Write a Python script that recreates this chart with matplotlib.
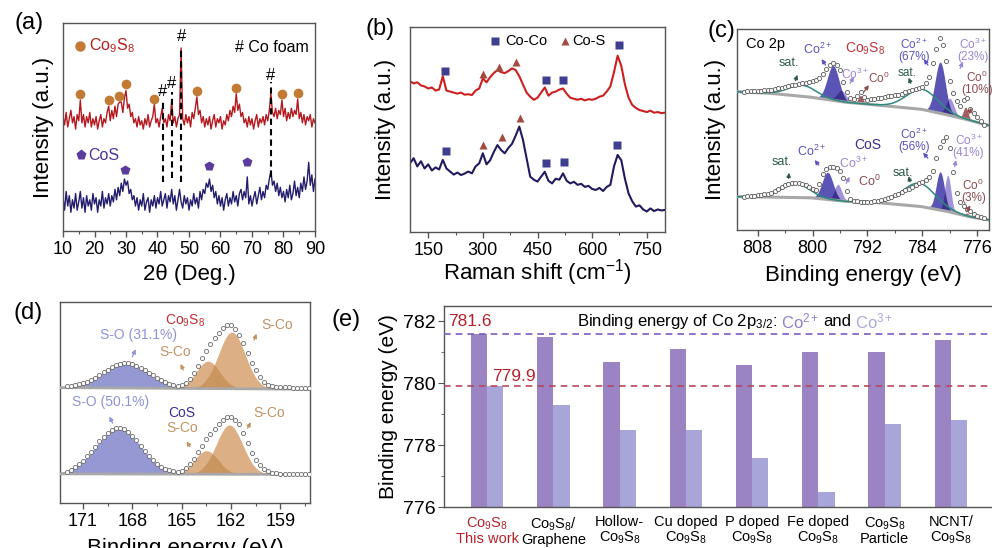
import numpy as np
import matplotlib
matplotlib.use('Agg')
import matplotlib.pyplot as plt
from matplotlib.ticker import MultipleLocator

plt.rcParams['font.family'] = ['Liberation Sans', 'DejaVu Sans']
plt.rcParams['mathtext.fontset'] = 'custom'
plt.rcParams['mathtext.rm'] = 'Liberation Sans'
plt.rcParams['mathtext.it'] = 'Liberation Sans:italic'
plt.rcParams['mathtext.bf'] = 'Liberation Sans:bold'

# ---------------- DATA ----------------
# (a) XRD, 2theta 10..90 step 0.5
xrd_co9s8 = [
    5.5, 5.1, 5.7, 5.0, 5.4, 5.8, 5.2, 5.5, 4.9, 5.6,
    5.3, 6.3, 5.2, 5.6, 5.0, 5.5, 5.2, 5.7, 5.0, 5.4,
    5.1, 5.5, 4.9, 5.3, 5.6, 5.0, 5.4, 5.2, 5.7, 6.0,
    5.3, 5.8, 5.4, 6.0, 5.5, 6.1, 6.2, 6.2, 5.7, 6.4,
    6.75, 5.9, 6.1, 5.5, 5.7, 5.2, 5.4, 5.0, 5.5, 5.1,
    5.3, 4.9, 5.4, 5.1, 5.6, 5.0, 5.3, 5.5, 6.1, 5.2,
    5.4, 5.0, 5.5, 5.9, 5.2, 5.4, 5.0, 5.6, 5.3, 6.3,
    5.2, 5.5, 5.0, 5.4, 5.6, 8.8, 5.4, 5.1, 5.6, 5.2,
    5.5, 5.0, 5.7, 5.4, 5.9, 6.45, 5.6, 5.8, 5.2, 5.5,
    5.0, 5.4, 5.1, 5.5, 4.9, 5.3, 5.6, 5.0, 5.4, 5.2,
    5.5, 4.9, 5.3, 5.1, 5.6, 5.3, 5.8, 5.5, 6.0, 5.7,
    6.6, 5.8, 6.1, 5.5, 5.7, 5.2, 5.4, 5.0, 5.5, 5.1,
    5.4, 4.9, 5.3, 5.6, 5.0, 5.4, 5.2, 5.5, 5.1, 5.6,
    5.3, 5.8, 6.6, 5.7, 5.5, 5.9, 5.4, 5.8, 5.6, 6.3,
    5.5, 5.9, 5.3, 5.7, 5.4, 5.9, 5.5, 5.8, 5.6, 6.35,
    5.4, 5.7, 5.2, 5.6, 5.1, 5.5, 5.3, 5.6, 5.0, 5.4,
    5.2]
xrd_cos = [
    1.6, 1.0, 1.9, 1.2, 1.7, 0.9, 1.5, 1.1, 1.8, 1.0,
    1.4, 1.9, 1.1, 1.6, 0.9, 1.7, 1.2, 1.5, 1.0, 1.8,
    1.3, 1.6, 0.9, 1.5, 1.2, 1.9, 1.1, 1.6, 1.3, 1.8,
    1.2, 1.7, 1.4, 2.0, 1.5, 2.1, 1.7, 2.3, 1.9, 2.5,
    2.2, 2.4, 1.8, 2.0, 1.5, 1.7, 1.2, 1.6, 1.0, 1.5,
    1.2, 1.8, 1.0, 1.4, 1.6, 0.9, 1.5, 1.2, 1.7, 1.1,
    1.6, 1.3, 1.9, 1.2, 1.5, 1.8, 1.1, 1.7, 1.4, 2.0,
    1.3, 1.7, 1.0, 1.5, 2.0, 1.4, 1.1, 1.7, 1.3, 1.6,
    1.0, 1.5, 1.2, 1.8, 1.3, 1.6, 1.1, 1.9, 1.5, 2.0,
    1.8, 2.3, 2.1, 2.5, 1.9, 2.2, 1.6, 1.9, 1.3, 1.7,
    1.2, 1.6, 1.0, 1.5, 1.8, 1.2, 1.6, 1.3, 1.9, 1.4,
    1.7, 1.2, 1.8, 2.0, 1.5, 1.9, 1.6, 2.6, 1.3, 1.7,
    1.2, 1.6, 1.9, 1.3, 1.7, 2.1, 1.5, 1.9, 1.6, 2.2,
    2.0, 2.5, 2.9, 2.2, 2.4, 1.9, 2.3, 1.7, 2.1, 1.6,
    1.9, 1.4, 2.0, 1.6, 2.2, 1.5, 1.8, 2.4, 1.7, 2.1,
    1.6, 2.3, 1.9, 2.6, 2.0, 2.4, 3.3, 2.2, 2.7, 1.9,
    2.5]
co9s8_peak_x = [15.4, 24.6, 27.8, 30.0, 39.0, 52.5, 64.8, 79.4, 84.7]
co9s8_peak_y = [6.57, 6.3, 6.49, 7.05, 6.33, 6.73, 6.86, 6.57, 6.62]
cos_peak_x = [29.7, 56.4, 68.3]
cos_peak_y = [2.93, 3.14, 3.3]
foam_x = [41.6, 44.5, 47.5, 75.9]
foam_top = [6.3, 6.68, 8.85, 7.16]
foam_bot = [2.36, 2.55, 2.36, 2.6]
foam_hash_y = [6.7, 7.1, 9.34, 7.5]

# (b) Raman, 100..800 step 10
raman_co9s8 = [
    7.35, 7.25, 7.3, 7.15, 7.1, 7.0, 7.05, 6.9, 6.95, 7.6,
    6.9, 6.85, 6.8, 6.75, 6.8, 6.7, 6.72, 6.68, 6.9, 7.0,
    7.5, 7.3, 7.55, 7.75, 7.9, 7.8, 7.75, 7.85, 7.98, 7.9,
    7.6, 7.2, 6.8, 6.6, 6.45, 6.55, 6.8, 7.05, 6.65, 6.8,
    6.85, 6.95, 7.0, 6.75, 6.55, 6.5, 6.45, 6.5, 6.42, 6.48,
    6.45, 6.5, 6.6, 6.65, 6.85, 7.1, 7.8, 8.6, 8.1, 7.2,
    6.55, 6.2, 6.05, 5.95, 5.9, 5.85, 5.92, 5.82, 5.85, 5.8,
    5.82]
raman_cos = [
    3.35, 3.6, 3.2, 3.45, 3.1, 3.3, 3.0, 3.15, 3.05, 3.52,
    3.1, 2.95, 2.8, 2.9, 2.78, 2.85, 2.95, 2.86, 3.2, 3.35,
    3.84, 3.3, 3.5, 3.9, 4.24, 4.0, 3.84, 4.1, 4.3, 4.7,
    5.14, 4.5, 3.6, 2.7, 2.55, 2.46, 2.7, 2.94, 2.5, 2.37,
    2.6, 2.55, 2.86, 2.5, 2.37, 2.45, 2.3, 2.35, 2.2, 2.25,
    2.1, 2.05, 2.15, 2.0, 2.2, 2.3, 3.2, 3.76, 3.5, 2.6,
    1.88, 1.5, 1.24, 1.3, 1.1, 1.0, 1.15, 1.02, 1.1, 1.05,
    1.08]
raman_sq_x = [196, 474, 521, 675, 198, 474, 524, 669.5]
raman_sq_y = [7.87, 7.41, 7.41, 9.12, 3.97, 3.35, 3.4, 4.24]
raman_tri_x = [301, 345, 391, 301, 352, 402]
raman_tri_y = [7.69, 8.03, 8.31, 4.24, 4.65, 5.55]

# (c) Co 2p XPS, 810..775 step 0.5
xps_co_top = [
    6.88, 6.9, 6.91, 6.92, 6.93, 6.94, 6.95, 6.96, 6.98, 7.0,
    7.05, 7.08, 7.12, 7.16, 7.2, 7.23, 7.27, 7.3, 7.33, 7.36,
    7.4, 7.46, 7.55, 7.75, 8.0, 8.2, 8.29, 8.22, 7.95, 7.35,
    6.85, 6.55, 6.5, 6.65, 6.88, 6.6, 6.48, 6.5, 6.52, 6.55,
    6.58, 6.62, 6.65, 6.68, 6.7, 6.73, 6.78, 6.85, 6.9, 6.95,
    7.0, 7.06, 7.13, 7.3, 7.63, 8.3, 9.0, 9.54, 9.2, 8.4,
    7.4, 6.8, 6.4, 6.15, 6.45, 6.55, 6.0, 5.8, 5.6, 5.4,
    5.22]
xps_co_bot = [
    1.66, 1.67, 1.68, 1.7, 1.72, 1.75, 1.78, 1.81, 1.86, 1.93,
    2.02, 2.12, 2.22, 2.29, 2.33, 2.35, 2.33, 2.29, 2.23, 2.15,
    2.06, 2.0, 2.3, 2.78, 3.05, 3.15, 3.12, 3.06, 2.92, 2.6,
    1.95, 1.55, 1.45, 1.42, 1.41, 1.4, 1.4, 1.41, 1.43, 1.46,
    1.5, 1.55, 1.6, 1.66, 1.72, 1.8, 1.88, 1.97, 2.06, 2.15,
    2.24, 2.32, 2.4, 2.5, 2.62, 2.95, 3.6, 4.15, 4.45, 4.62,
    4.1, 2.9, 1.85, 1.4, 1.2, 1.05, 0.95, 0.82, 0.72, 0.64,
    0.58]
co_base_x = [774.3, 777, 780, 784, 790, 795, 800, 806, 811]
co_base_top = [5.2, 5.45, 5.7, 6.0, 6.2, 6.35, 6.6, 6.8, 6.88]
co_base_bot = [0.5, 0.65, 0.9, 1.16, 1.35, 1.42, 1.6, 1.64, 1.66]
co_top_center = [797.0, 795.8, 793.0, 781.4, 780.0, 777.7]
co_top_amp = [1.73, 0.55, 0.4, 2.55, 0.85, 0.6]
co_top_sigma = [0.85, 0.7, 0.35, 0.75, 0.6, 0.35]
co_top_kind = ['2', '3', '0', '2', '3', '0']
co_top_sat_center = [801.5, 784.0]
co_top_sat_amp = [0.55, 1.0]
co_top_sat_sigma = [2.0, 2.3]
co_bot_center = [797.8, 796.3, 781.4, 780.3, 777.5]
co_bot_amp = [1.35, 0.8, 1.9, 1.8, 0.15]
co_bot_sigma = [0.8, 0.55, 0.6, 0.45, 0.35]
co_bot_kind = ['2', '3', '2', '3', '0']
co_bot_sat_center = [802.5, 784.5]
co_bot_sat_amp = [0.7, 1.15]
co_bot_sat_sigma = [2.0, 2.4]

# (d) S 2p XPS, 172..157 step 0.25
xps_s_top = [
    5.80, 5.82, 5.85, 5.90, 5.96, 6.03, 6.13, 6.24, 6.37,
    6.50, 6.63, 6.75, 6.85, 6.92, 6.96, 6.96, 6.92,
    6.84, 6.74, 6.62, 6.49, 6.35, 6.23, 6.12, 6.02,
    5.94, 5.86, 5.84, 5.88, 5.99, 6.18, 6.47, 6.82,
    7.2, 7.57, 7.9, 8.2, 8.47, 8.72, 8.86, 8.85,
    8.65, 8.35, 7.95, 7.45, 6.98, 6.6, 6.25, 6.0,
    5.87, 5.8, 5.77, 5.76, 5.75, 5.75, 5.74, 5.74,
    5.73, 5.73, 5.72, 5.72]
xps_s_bot = [
    1.55, 1.66, 1.79, 1.94, 2.11, 2.32, 2.55, 2.8, 3.06,
    3.3, 3.5, 3.65, 3.74, 3.75, 3.68, 3.54, 3.34,
    3.11, 2.86, 2.6, 2.36, 2.14, 1.96, 1.81, 1.7,
    1.62, 1.57, 1.56, 1.6, 1.72, 1.92, 2.2, 2.52,
    2.85, 3.16, 3.45, 3.7, 3.95, 4.15, 4.28, 4.28,
    4.15, 3.92, 3.5, 2.98, 2.5, 2.15, 1.88, 1.7,
    1.58, 1.51, 1.48, 1.46, 1.45, 1.45, 1.44, 1.44,
    1.43, 1.43, 1.43, 1.42]
s_base_x = [157.2, 172.4]
s_base_top = [5.66, 5.74]
s_base_bot = [1.42, 1.45]
s_top_center = [168.4, 163.4, 161.95]
s_top_amp = [1.23, 1.36, 2.82]
s_top_sigma = [1.4, 0.72, 0.81]
s_bot_center = [168.85, 163.5, 162.1]
s_bot_amp = [2.3, 1.17, 2.45]
s_bot_sigma = [1.36, 0.72, 0.8]

# (e) bar chart
e_labels = ["Co$_9$S$_8$\nThis work", "Co$_9$S$_8$/\nGraphene", "Hollow-\nCo$_9$S$_8$",
            "Cu doped\nCo$_9$S$_8$", "P doped\nCo$_9$S$_8$", "Fe doped\nCo$_9$S$_8$",
            "Co$_9$S$_8$\nParticle", "NCNT/\nCo$_9$S$_8$"]
e_co2 = [781.6, 781.5, 780.7, 781.1, 780.6, 781.0, 781.0, 781.4]
e_co3 = [779.9, 779.3, 778.5, 778.5, 777.6, 776.5, 778.7, 778.8]
e_ref = [781.6, 779.9]

# ---------------- FIGURE ----------------
W, H = 992, 548
fig = plt.figure(figsize=(W / 100, H / 100), dpi=100)


def add_ax(l, t, r, b):
    return fig.add_axes([l / W, 1 - b / H, (r - l) / W, (b - t) / H])


SPINE = '#555555'
TICKFS = 13
LABFS = 16


def style(ax, ticks_y=False):
    for s in ax.spines.values():
        s.set_color(SPINE)
        s.set_linewidth(1.0)
    ax.tick_params(axis='x', which='major', direction='out', length=4, width=1,
                   color=SPINE, labelsize=TICKFS, pad=3)
    ax.tick_params(axis='x', which='minor', direction='out', length=2.5, width=0.8, color=SPINE)
    if not ticks_y:
        ax.tick_params(axis='y', which='both', left=False, labelleft=False)


def gauss(x, c, a, s):
    return a * np.exp(-0.5 * ((x - c) / s) ** 2)


RED = '#b3191e'
NAVY = '#231d6e'

# ---- (a) ----
ax = add_ax(63, 23, 315, 231)
xa = np.linspace(10, 90, len(xrd_co9s8))
ax.plot(xa, xrd_co9s8, color=RED, lw=1.0)
ax.plot(np.linspace(10, 90, len(xrd_cos)), xrd_cos, color=NAVY, lw=1.0)
for fx, ft, fb, hy in zip(foam_x, foam_top, foam_bot, foam_hash_y):
    ax.plot([fx, fx], [fb, ft], color='k', lw=1.5, ls=(0, (3, 2)))
    ax.text(fx, hy, '#', ha='center', va='center', fontsize=12, color='k')
ax.plot(co9s8_peak_x, co9s8_peak_y, 'o', color='#c27a35', ms=7, mec='none')
ax.plot(cos_peak_x, cos_peak_y, 'p', color='#5b3b9c', ms=7.5, mec='none')
ax.plot([15.4], [8.9], 'o', color='#c27a35', ms=7.5, mec='none')
ax.text(18.4, 8.9, 'Co$_9$S$_8$', color='#b32020', fontsize=11.5, va='center')
ax.plot([15.7], [3.65], 'p', color='#5b3b9c', ms=8, mec='none')
ax.text(17.9, 3.65, 'CoS', color='#4a3598', fontsize=11.5, va='center')
ax.text(64.6, 8.8, '# Co foam', color='k', fontsize=11.5, va='center')
ax.set_xlim(10, 90)
ax.set_ylim(0, 10)
ax.xaxis.set_major_locator(MultipleLocator(10))
ax.xaxis.set_minor_locator(MultipleLocator(5))
style(ax)
ax.set_xlabel('2θ (Deg.)', fontsize=LABFS)
ax.set_ylabel('Intensity (a.u.)', fontsize=LABFS)
ax.xaxis.set_label_coords(0.5, -0.21)
ax.xaxis.label.set_verticalalignment('center')
ax.yaxis.set_label_coords(-0.079, 0.5)
ax.yaxis.label.set_verticalalignment('center')

# ---- (b) ----
ax = add_ax(410, 27, 665, 232)
xb = np.linspace(100, 800, len(raman_co9s8))
ax.plot(xb, raman_co9s8, color='#cc1f1f', lw=1.5)
ax.plot(np.linspace(100, 800, len(raman_cos)), raman_cos, color='#211a5e', lw=1.5)
ax.plot(raman_sq_x, raman_sq_y, 's', color='#3f3f8f', ms=6, mec='none')
ax.plot(raman_tri_x, raman_tri_y, '^', color='#a24a3e', ms=6, mec='none')
ax.plot([333.5], [9.33], 's', color='#3f3f8f', ms=6, mec='none')
ax.text(362, 9.33, 'Co-Co', fontsize=10.5, va='center')
ax.plot([526], [9.33], '^', color='#a24a3e', ms=6, mec='none')
ax.text(546, 9.33, 'Co-S', fontsize=10.5, va='center')
ax.set_xlim(100, 800)
ax.set_ylim(0, 10)
ax.xaxis.set_major_locator(MultipleLocator(150))
ax.xaxis.set_minor_locator(MultipleLocator(75))
style(ax)
ax.set_xlabel('Raman shift (cm$^{-1}$)', fontsize=LABFS)
ax.set_ylabel('Intensity (a.u.)', fontsize=LABFS)
ax.xaxis.set_label_coords(0.5, -0.2)
ax.xaxis.label.set_verticalalignment('center')
ax.yaxis.set_label_coords(-0.098, 0.5)
ax.yaxis.label.set_verticalalignment('center')

# ---- (c) ----
ax = add_ax(737, 29, 989, 230)
C2, C3, C0, CDK = '#5a55b5', '#a292d8', '#a45c60', '#3b3190'
T2, T3, T0, TSAT = '#5b52c0', '#9b86d4', '#8b4a4f', '#2e5a4a'
TEAL = '#2d8a7e'
xx = np.linspace(774.3, 811, 1500)
fillcol = {'2': C2, '3': C3, '0': C0}
for base_y, cen, amp, sig, kind, sc, sa, ss, data in [
        (co_base_top, co_top_center, co_top_amp, co_top_sigma, co_top_kind,
         co_top_sat_center, co_top_sat_amp, co_top_sat_sigma, xps_co_top),
        (co_base_bot, co_bot_center, co_bot_amp, co_bot_sigma, co_bot_kind,
         co_bot_sat_center, co_bot_sat_amp, co_bot_sat_sigma, xps_co_bot)]:
    base = np.interp(xx, co_base_x, base_y)
    comps = [gauss(xx, c, a, s) for c, a, s in zip(cen, amp, sig)]
    for g, k in zip(comps, kind):
        ax.fill_between(xx, base, base + g, color=fillcol[k], lw=0, zorder=2)
    for i in range(len(comps) - 1):
        if kind[i] == '2' and kind[i + 1] == '3':
            ov = np.minimum(comps[i], comps[i + 1])
            ax.fill_between(xx, base, base + ov, color=CDK, lw=0, zorder=2.1)
    ax.plot(xx, base, color='#a8a8a8', lw=2.2, zorder=3)
    sat = sum(gauss(xx, c, a, s) for c, a, s in zip(sc, sa, ss))
    ax.plot(xx, base + sat, color=TEAL, lw=1.1, zorder=3.5)
    ax.plot(np.linspace(810, 775, len(data)), data, 'o', ms=3.0, mfc='white',
            mec='#5a5a5a', mew=0.6, zorder=4)

c_labels = [
    ("Co 2p", 806.9, 9.25, 'k', 10.5),
    ("sat.", 803.5, 8.29, TSAT, 9), ("Co$^{2+}$", 799.2, 9.0, T2, 9),
    ("Co$_9$S$_8$", 792.3, 9.0, '#c2333a', 10), ("Co$^{3+}$", 793.9, 7.75, T3, 8.5),
    ("Co$^{0}$", 790.3, 7.55, T0, 8.5), ("sat.", 786.3, 7.8, TSAT, 8.5),
    ("Co$^{2+}$\n(67%)", 785.2, 8.95, T2, 8.5), ("Co$^{3+}$\n(23%)", 776.7, 8.95, T3, 8.5),
    ("Co$^{0}$\n(10%)", 776.1, 7.33, T0, 8.5),
    ("CoS", 792.0, 4.23, '#3a2d96', 10), ("Co$^{2+}$", 800.2, 3.9, T2, 9),
    ("sat.", 804.5, 3.37, TSAT, 9), ("Co$^{3+}$", 794.0, 3.32, T3, 9),
    ("Co$^{0}$", 791.8, 2.4, T0, 9), ("sat.", 786.8, 2.82, TSAT, 9),
    ("Co$^{2+}$\n(56%)", 785.2, 4.48, T2, 8.5), ("Co$^{3+}$\n(41%)", 777.3, 4.2, T3, 8.5),
    ("Co$^{0}$\n(3%)", 776.6, 1.95, T0, 8.5)]
for s, x, y, col, fs in c_labels:
    ax.text(x, y, s, color=col, fontsize=fs, ha='center', va='center',
            linespacing=0.9, zorder=6)
c_arrows = [
    (802.5, 7.43, 802.2, 7.72, TSAT), (798.1, 8.21, 798.7, 8.5, T2),
    (794.5, 7.3, 794.0, 7.63, T3), (792.5, 6.88, 791.8, 7.21, T0),
    (785.7, 7.3, 786.0, 7.58, TSAT), (783.2, 8.21, 783.8, 8.5, T2),
    (778.5, 8.04, 778.1, 8.37, T3), (777.2, 5.8, 776.85, 6.08, T0),
    (803.5, 2.57, 803.4, 2.85, TSAT), (799.1, 3.23, 799.7, 3.48, T2),
    (795.1, 2.32, 794.6, 2.65, T3), (785.8, 2.4, 786.0, 2.68, TSAT),
    (783.2, 3.57, 783.9, 3.85, T2), (779.3, 3.15, 779.1, 3.48, T3),
    (777.6, 0.91, 777.0, 1.22, T0)]
for x0, y0, x1, y1, col in c_arrows:
    ax.annotate('', xy=(x1, y1), xytext=(x0, y0),
                arrowprops=dict(arrowstyle='-|>', color=col, lw=0.9,
                                mutation_scale=6, shrinkA=0, shrinkB=0), zorder=6)
ax.set_xlim(811, 774.3)
ax.set_ylim(0, 10)
ax.xaxis.set_major_locator(MultipleLocator(8))
ax.xaxis.set_minor_locator(MultipleLocator(4))
style(ax)
ax.set_xlabel('Binding energy (eV)', fontsize=LABFS)
ax.set_ylabel('Intensity (a.u.)', fontsize=LABFS)
ax.xaxis.set_label_coords(0.5, -0.224)
ax.xaxis.label.set_verticalalignment('center')
ax.yaxis.set_label_coords(-0.087, 0.5)
ax.yaxis.label.set_verticalalignment('center')

# ---- (d) ----
ax = add_ax(60, 302, 310, 503)
SO, SC, SCD = '#9698d4', '#dcb084', '#c9965f'
xs = np.linspace(157.2, 172.4, 1200)
for base_y, cen, amp, sig, data in [
        (s_base_top, s_top_center, s_top_amp, s_top_sigma, xps_s_top),
        (s_base_bot, s_bot_center, s_bot_amp, s_bot_sigma, xps_s_bot)]:
    base = np.interp(xs, s_base_x, base_y)
    g = [gauss(xs, c, a, s) for c, a, s in zip(cen, amp, sig)]
    ax.fill_between(xs, base, base + g[0], color=SO, lw=0, zorder=2)
    ax.fill_between(xs, base, base + g[1], color=SC, lw=0, zorder=2)
    ax.fill_between(xs, base, base + g[2], color=SC, lw=0, zorder=2)
    ax.fill_between(xs, base, base + np.minimum(g[1], g[2]), color=SCD, lw=0, zorder=2.1)
    ax.plot(xs, base, color='#a8a8a8', lw=2.0, zorder=3)
    ax.plot(np.linspace(172, 157, len(data)), data, 'o', ms=3.0, mfc='white',
            mec='#6a6a6a', mew=0.6, zorder=4)
TSO, TSC = '#8e92d8', '#c39262'
d_labels = [("Co$_9$S$_8$", 164.8, 9.05, '#c82b33'), ("S-O (31.1%)", 167.6, 8.35, TSO),
            ("S-Co", 165.4, 7.53, TSC), ("S-Co", 159.2, 8.86, TSC),
            ("S-O (50.1%)", 169.3, 5.04, TSO), ("CoS", 165.0, 4.46, '#3a2d96'),
            ("S-Co", 165.0, 3.72, TSC), ("S-Co", 159.7, 4.46, TSC)]
for s, x, y, col in d_labels:
    ax.text(x, y, s, color=col, fontsize=10, ha='center', va='center', zorder=6)
d_arrows = [(168.0, 7.28, 167.8, 7.65, TSO), (164.9, 6.62, 165.07, 6.92, TSC),
            (160.6, 8.1, 160.45, 8.42, TSC), (169.2, 3.97, 169.4, 4.3, TSO),
            (164.5, 2.8, 164.7, 3.07, TSC), (161.0, 3.72, 160.8, 4.02, TSC)]
for x0, y0, x1, y1, col in d_arrows:
    ax.annotate('', xy=(x1, y1), xytext=(x0, y0),
                arrowprops=dict(arrowstyle='-|>', color=col, lw=0.9,
                                mutation_scale=6, shrinkA=0, shrinkB=0), zorder=6)
ax.set_xlim(172.4, 157.2)
ax.set_ylim(0, 10)
ax.xaxis.set_major_locator(MultipleLocator(3))
ax.xaxis.set_minor_locator(MultipleLocator(1.5))
style(ax)
ax.set_xlabel('Binding energy (eV)', fontsize=LABFS)
ax.xaxis.set_label_coords(0.5, -0.224)
ax.xaxis.label.set_verticalalignment('center')

# ---- (e) ----
ax = add_ax(444, 306, 1000, 507)
xe = np.arange(len(e_co2))
wb = 0.246
ax.bar(xe - wb / 2, e_co2, wb, color='#9a84c4', lw=0, zorder=2)
ax.bar(xe + wb / 2, e_co3, wb, color='#a8a5d8', lw=0, zorder=2)
ax.axhline(e_ref[0], color='#7a5cc0', lw=1.2, ls=(0, (4, 3)), zorder=3)
ax.axhline(e_ref[1], color='#b5485e', lw=1.2, ls=(0, (4, 3)), zorder=3)
ax.text(-0.59, 782.0, '%.1f' % e_ref[0], color='#b5222a', fontsize=12.5, va='center')
ax.text(0.075, 780.22, '%.1f' % e_ref[1], color='#b5222a', fontsize=12.5, va='center')
ax.set_xlim(-0.65, 7.74)
ax.set_ylim(776, 782.5)
ax.set_xticks(xe)
ax.set_xticklabels(e_labels, fontsize=10.5, linespacing=1.05)
ax.get_xticklabels()[0].set_color('#b5222a')
ax.tick_params(axis='x', length=0, pad=6)
ax.yaxis.set_major_locator(MultipleLocator(2))
ax.yaxis.set_minor_locator(MultipleLocator(1))
ax.tick_params(axis='y', which='major', direction='out', length=4, color=SPINE, labelsize=14, pad=2)
ax.tick_params(axis='y', which='minor', direction='out', length=2.5, color=SPINE)
for s in ax.spines.values():
    s.set_color(SPINE)
    s.set_linewidth(1.0)
ax.set_ylabel('Binding energy (eV)', fontsize=15)
ax.yaxis.set_label_coords(-0.1, 0.5)
ax.yaxis.label.set_verticalalignment('center')

# title composed of coloured parts
fig.canvas.draw()
renderer = fig.canvas.get_renderer()
parts = [("Binding energy of Co 2p$_{3/2}$:", 'k', 0), ("Co$^{2+}$", '#8f80cc', 4),
         ("and", 'k', 4), ("Co$^{3+}$", '#aba7dc', 4)]
xdisp = ax.transData.transform((1.36, 782.0))[0]
ydisp = ax.transData.transform((1.36, 782.0))[1]
for s, col, gap in parts:
    xdisp += gap
    xd, yd = ax.transData.inverted().transform((xdisp, ydisp))
    t = ax.text(xd, yd, s, color=col, fontsize=12, va='center', ha='left')
    bb = t.get_window_extent(renderer)
    xdisp = bb.x1

# panel letters
for lab, px, py in [('(a)', 29, 23), ('(b)', 380, 29), ('(c)', 721, 31),
                    ('(d)', 28, 313), ('(e)', 346, 320)]:
    fig.text(px / W, 1 - py / H, lab, fontsize=17, ha='center', va='center')

fig.savefig('out.png', dpi=100)
